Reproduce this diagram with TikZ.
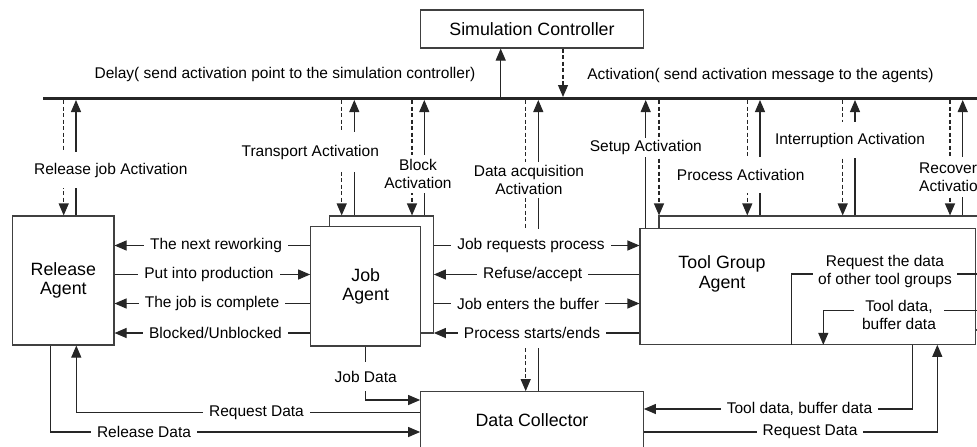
\documentclass[tikz,border=0pt]{standalone}
\usepackage{fontspec}
\setmainfont{Liberation Sans}
\usetikzlibrary{arrows.meta}
\newcommand\lblF{\fontsize{15.5}{18}\selectfont}
\newcommand\boxF{\fontsize{17.8}{19.5}\selectfont}
\begin{document}
\begin{tikzpicture}[x=1pt,y=-1pt,
  ln/.style={line width=1.1pt,draw=black!85},
  arr/.style={ln,-{Triangle[length=12pt,width=10pt]}},
  dsh/.style={dash pattern=on 4pt off 2.5pt},
  box/.style={draw=black!75,line width=1.1pt,fill=white,font=\boxF,align=center,inner sep=0pt},
  lbl/.style={fill=white,font=\lblF,align=center,inner xsep=6pt,inner ysep=1pt},
  act/.style={fill=white,font=\lblF,align=center,inner xsep=1pt,inner ysep=0pt},
  txt/.style={font=\lblF,inner sep=0pt}]

\useasboundingbox (0,0) rectangle (977,447);
\clip (0,0) rectangle (977,447);

% bus
\coordinate (busL) at (43.3,98.5);
\coordinate (busR) at (990,98.5);
\draw[line width=2.8pt,black!85] (busL) -- (busR);

% boxes
\node[box,minimum width=222.6pt,minimum height=38pt] (SC) at (532,29) {Simulation Controller};
\node[box,minimum width=101.3pt,minimum height=129pt] (RA) at (63.35,280.5) {Release\\Agent};
\node[box,minimum width=104pt,minimum height=117pt] (JAb) at (381.3,274.5) {};
\node[box,minimum width=110pt,minimum height=119.3pt] (JA) at (365.7,286.35) {Job\\Agent};
\node[box,minimum width=341pt,minimum height=114pt] (TGb) at (829.5,273) {};
\node[box,minimum width=335.7pt,minimum height=116pt] (TG) at (807.85,286.3) {};
\node[font=\boxF,align=center,inner sep=0pt] (TGt) at (722,274) {Tool Group\\Agent};
\node[box,minimum width=222.6pt,minimum height=56.3pt] (DC) at (532,419.85) {Data Collector};

% top texts
\node[txt] (delay) at (285,74) {Delay( send activation point to the simulation controller)};
\node[txt] (activ) at (760.5,75) {Activation( send activation message to the agents)};

% controller arrows
\draw[arr] (500.7,98.5) -- (SC.south -| 500.7,0);
\draw[arr,dsh] (SC.south -| 563,0) -- (563,97);

% activation pairs
\draw[arr,dsh] (63.7,100) -- (RA.north -| 63.7,0);
\draw[arr] (RA.north -| 76,0) -- (76,100);
\draw[arr,dsh] (341.7,100) -- (JAb.north -| 341.7,0);
\draw[arr] (JAb.north -| 354.3,0) -- (354.3,100);
\draw[arr,dsh] (412,100) -- (JAb.north -| 412,0);
\draw[arr] (JAb.north -| 424.3,0) -- (424.3,100);
\draw[ln,dsh] (525.7,100) -- (525.7,228.5);
\draw[arr,dsh] (525.7,348) -- (DC.north -| 525.7,0);
\draw[arr] (538.3,228.5) -- (538.3,100);
\draw[ln] (DC.north -| 538.3,0) -- (538.3,348);
\draw[arr] (TG.north -| 645.7,0) -- (645.7,100);
\draw[arr,dsh] (659,100) -- (TGb.north -| 659,0);
\draw[arr,dsh] (747.3,100) -- (TGb.north -| 747.3,0);
\draw[arr] (TGb.north -| 760,0) -- (760,100);
\draw[arr,dsh] (842.7,100) -- (TGb.north -| 842.7,0);
\draw[arr] (TGb.north -| 855,0) -- (855,100);
\draw[arr,dsh] (950,100) -- (TGb.north -| 950,0);
\draw[arr] (TGb.north -| 962.7,0) -- (962.7,100);

% rows left
\draw[arr] (JA.west |- 0,245.5) -- (RA.east |- 0,245.5);
\draw[arr] (RA.east |- 0,274.5) -- (JA.west |- 0,274.5);
\draw[arr] (JA.west |- 0,303.5) -- (RA.east |- 0,303.5);
\draw[arr] (JA.west |- 0,333) -- (RA.east |- 0,333);
% rows right
\draw[arr] (JAb.east |- 0,245.5) -- (TG.west |- 0,245.5);
\draw[arr] (TG.west |- 0,274.5) -- (JAb.east |- 0,274.5);
\draw[arr] (JAb.east |- 0,303.5) -- (TG.west |- 0,303.5);
\draw[arr] (TG.west |- 0,333) -- (JAb.east |- 0,333);

% bottom connectors
\draw[arr] (JA.south) -- (365.7,400) -- (DC.west |- 0,400);
\draw[arr] (DC.west |- 0,412.3) -- (76.3,412.3) -- (RA.south -| 76.3,0);
\draw[arr] (RA.south -| 50.7,0) -- (50.7,432) -- (DC.west |- 0,432);
\draw[arr] (TG.south -| 912.3,0) -- (912.3,409) -- (DC.east |- 0,409);
\draw[arr] (DC.east |- 0,432) -- (937.3,432) -- (TG.south -| 937.3,0);

% inside tool group
\coordinate (offA) at (985,274);
\coordinate (offB) at (985,310.7);
\draw[ln] (TG.south -| 791.7,0) -- (791.7,274) -- (offA);
\draw[arr] (offB) -- (823.3,310.7) -- (TG.south -| 823.3,0);

% activation labels
\node[act,minimum height=36pt] (lRel) at (110.8,170) {Release job Activation};
\node[act,minimum height=40pt] (lTra) at (310.3,152) {Transport Activation};
\node[act,minimum height=38pt] (lBlo) at (418,174) {Block\\Activation};
\node[act,minimum height=36pt] (lDat) at (529,180) {Data acquisition\\Activation};
\node[act,minimum height=19pt] (lSet) at (645.8,147.5) {Setup Activation};
\node[act,minimum height=36pt] (lPro) at (740.7,175) {Process Activation};
\node[act,minimum height=36pt] (lInt) at (850,140) {Interruption Activation};
\node[act,minimum height=40pt,anchor=west,align=left] (lRec) at (918,177) {Recovery\\Activation};

% row labels
\node[lbl] (lNext) at (216,245.5) {The next reworking};
\node[lbl] (lPut) at (209,274.5) {Put into production};
\node[lbl] (lComp) at (212,303.5) {The job is complete};
\node[lbl] (lBlk) at (215.5,333) {Blocked/Unblocked};
\node[lbl] (lReq) at (531,245.5) {Job requests process};
\node[lbl] (lRef) at (532.7,274.5) {Refuse/accept};
\node[lbl] (lEnt) at (528,303.5) {Job enters the buffer};
\node[lbl] (lPse) at (532,333) {Process starts/ends};

% bottom labels
\node[act,minimum height=29pt] (lJob) at (365.7,376.5) {Job Data};
\node[lbl] (lRqL) at (256.5,412.3) {Request Data};
\node[lbl] (lRel2) at (144,432) {Release Data};
\node[lbl] (lTool) at (799.5,409) {Tool data, buffer data};
\node[lbl] (lRqR) at (810,432) {Request Data};

% inner tool group labels
\node[lbl,inner xsep=5pt] (lOth) at (885,271) {Request the data\\of other tool groups};
\node[lbl,inner xsep=8pt] (lTB) at (899,314.7) {Tool data,\\buffer data};
\end{tikzpicture}
\end{document}
